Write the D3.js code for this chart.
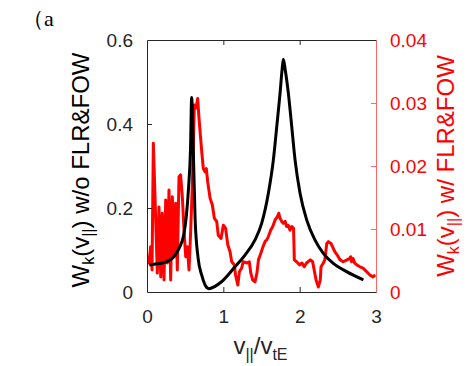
<!DOCTYPE html>
<html>
<head>
<meta charset="utf-8">
<script src="https://cdn.jsdelivr.net/npm/d3@7"></script>
<style>
  html, body { margin: 0; padding: 0; background: #fff; }
  svg { display: block; }
  text { font-family: Arial, "Liberation Sans", Helvetica, sans-serif; }
</style>
</head>
<body>
<div id="chart"></div>
<script>
// ---- data ----
const blackX = [0.03, 0.09, 0.223, 0.30, 0.37, 0.43, 0.48, 0.515, 0.545, 0.57, 0.585, 0.607, 0.63, 0.67, 0.717, 0.76, 0.81, 0.98, 1.153, 1.284, 1.415, 1.503, 1.59, 1.655, 1.70, 1.743, 1.77, 1.786, 1.81, 1.852, 1.896, 1.94, 2.005, 2.093, 2.20, 2.31, 2.44, 2.62, 2.835];
const blackY = [0.064, 0.066, 0.070, 0.076, 0.088, 0.108, 0.135, 0.18, 0.25, 0.34, 0.463, 0.334, 0.175, 0.08, 0.04, 0.017, 0.008, 0.025, 0.060, 0.088, 0.124, 0.164, 0.235, 0.314, 0.394, 0.473, 0.53, 0.554, 0.53, 0.473, 0.394, 0.314, 0.235, 0.171, 0.124, 0.092, 0.068, 0.048, 0.029];

const redX = [0.000, 0.004, 0.026, 0.048, 0.066, 0.083, 0.105, 0.122, 0.135, 0.157, 0.180, 0.200, 0.223, 0.245, 0.266, 0.288, 0.310, 0.332, 0.354, 0.376, 0.397, 0.419, 0.440, 0.463, 0.485, 0.507, 0.528, 0.550, 0.570, 0.594, 0.620, 0.642, 0.664, 0.681, 0.717, 0.738, 0.760, 0.777, 0.795, 0.826, 0.856, 0.882, 0.913, 0.934, 0.970, 1.000, 1.030, 1.058, 1.088, 1.110, 1.144, 1.160, 1.190, 1.210, 1.240, 1.260, 1.310, 1.340, 1.360, 1.385, 1.415, 1.440, 1.460, 1.490, 1.520, 1.547, 1.570, 1.590, 1.620, 1.647, 1.677, 1.710, 1.726, 1.743, 1.765, 1.786, 1.810, 1.830, 1.850, 1.874, 1.896, 1.920, 1.930, 1.960, 2.000, 2.030, 2.060, 2.090, 2.140, 2.170, 2.190, 2.215, 2.245, 2.270, 2.280, 2.310, 2.330, 2.355, 2.376, 2.410, 2.430, 2.460, 2.490, 2.530, 2.570, 2.620, 2.650, 2.670, 2.680, 2.700, 2.720, 2.750, 2.790, 2.830, 2.880, 2.920, 2.960, 2.990];
const redY = [0.0051, 0.0056, 0.0046, 0.0072, 0.0035, 0.0236, 0.0151, 0.0083, 0.0030, 0.0135, 0.0024, 0.0125, 0.0019, 0.0146, 0.0046, 0.0162, 0.0019, 0.0151, 0.0056, 0.0141, 0.0035, 0.0183, 0.0186, 0.0151, 0.0098, 0.0056, 0.0072, 0.0035, 0.0090, 0.0170, 0.0297, 0.0292, 0.0307, 0.0276, 0.0223, 0.0196, 0.0191, 0.0196, 0.0175, 0.0149, 0.0138, 0.0117, 0.0112, 0.0090, 0.0085, 0.0106, 0.0101, 0.0075, 0.0064, 0.0048, 0.0043, 0.0027, 0.0011, 0.0032, 0.0038, 0.0048, 0.0046, 0.0048, 0.0030, 0.0019, 0.0016, 0.0030, 0.0051, 0.0061, 0.0072, 0.0080, 0.0083, 0.0088, 0.0098, 0.0104, 0.0114, 0.0120, 0.0125, 0.0117, 0.0112, 0.0109, 0.0112, 0.0104, 0.0106, 0.0098, 0.0104, 0.0101, 0.0051, 0.0048, 0.0043, 0.0046, 0.0040, 0.0046, 0.0051, 0.0048, 0.0035, 0.0019, 0.0008, 0.0019, 0.0040, 0.0046, 0.0051, 0.0077, 0.0080, 0.0077, 0.0072, 0.0064, 0.0059, 0.0051, 0.0048, 0.0051, 0.0053, 0.0056, 0.0048, 0.0053, 0.0046, 0.0043, 0.0040, 0.0038, 0.0032, 0.0027, 0.0024, 0.0027];

const xTicks = [0, 1, 2, 3];
const yLeftTicks = [0, 0.2, 0.4, 0.6];
const yRightTicks = [0, 0.01, 0.02, 0.03, 0.04];
const yRightLabels = ["0", "0.01", "0.02", "0.03", "0.04"];

// ---- layout ----
const W = 476, H = 366;
const m = { left: 147, right: 376, top: 40, bottom: 292 };
const grayC = "#262626", redC = "#ff0000";

const svg = d3.select("#chart").append("svg").attr("width", W).attr("height", H);

const x = d3.scaleLinear().domain([0, 3]).range([m.left, m.right]);
const yL = d3.scaleLinear().domain([0, 0.6]).range([m.bottom, m.top]);
const yR = d3.scaleLinear().domain([0, 0.04]).range([m.bottom, m.top]);

const blackData = blackX.map((v, i) => [v, blackY[i]]);
const redData = redX.map((v, i) => [v, redY[i]]);

svg.append("clipPath").attr("id", "clip").append("rect")
  .attr("x", m.left).attr("y", m.top - 2).attr("width", m.right - m.left).attr("height", m.bottom - m.top + 2);

const g = svg.append("g").attr("clip-path", "url(#clip)");
g.append("path").datum(redData)
  .attr("fill", "none").attr("stroke", redC).attr("stroke-width", 3).attr("stroke-linejoin", "round")
  .attr("d", d3.line().x(d => x(d[0])).y(d => yR(d[1])));
g.append("path").datum(blackData)
  .attr("fill", "none").attr("stroke", "#000").attr("stroke-width", 3).attr("stroke-linejoin", "round")
  .attr("d", d3.line().curve(d3.curveMonotoneX).x(d => x(d[0])).y(d => yL(d[1])));

const fs = 19;
const xb = svg.append("g").attr("transform", `translate(0,${m.bottom})`)
  .call(d3.axisBottom(x).tickValues(xTicks).tickFormat(d3.format("d")).tickSizeInner(-5).tickSizeOuter(0).tickPadding(18));
const xt = svg.append("g").attr("transform", `translate(0,${m.top})`)
  .call(d3.axisTop(x).tickValues(xTicks).tickFormat("").tickSizeInner(-5).tickSizeOuter(0));
const yl = svg.append("g").attr("transform", `translate(${m.left},0)`)
  .call(d3.axisLeft(yL).tickValues(yLeftTicks).tickFormat(d => d === 0 ? "0" : d3.format(".1f")(d)).tickSizeInner(-5).tickSizeOuter(0).tickPadding(14));
const yr = svg.append("g").attr("transform", `translate(${m.right},0)`)
  .call(d3.axisRight(yR).tickValues(yRightTicks).tickFormat((d, i) => yRightLabels[i]).tickSizeInner(-5).tickSizeOuter(0).tickPadding(14));

[xb, xt, yl].forEach(a => {
  a.select(".domain").attr("stroke", grayC).attr("stroke-width", 1);
  a.selectAll(".tick line").attr("stroke", grayC);
  a.selectAll(".tick text").attr("fill", grayC).style("font-size", fs + "px").style("font-family", "Arial, 'Liberation Sans', sans-serif");
});
yr.select(".domain").attr("stroke", redC).attr("stroke-width", 1).attr("stroke-opacity", 0.6);
yr.selectAll(".tick line").attr("stroke", redC).attr("stroke-opacity", 0.6);
yr.selectAll(".tick text").attr("fill", redC).style("font-size", fs + "px").style("font-family", "Arial, 'Liberation Sans', sans-serif");
xb.selectAll(".tick line").filter(d => d === 0 || d === 3).remove();
xt.selectAll(".tick line").filter(d => d === 0 || d === 3).remove();
yl.selectAll(".tick line").filter(d => d === 0 || d === 0.6).remove();
yr.selectAll(".tick line").filter(d => d === 0 || d === 0.04).remove();

// axis titles
const lf = 24, sf = 16;
function addTitle(tx, ty, color, tail) {
  const t = svg.append("text")
    .attr("transform", `translate(${tx},${ty}) rotate(-90)`)
    .attr("text-anchor", "middle").attr("fill", color).style("font-size", lf + "px");
  t.append("tspan").text("W");
  t.append("tspan").attr("dy", 5).style("font-size", sf + "px").text("k");
  t.append("tspan").attr("dy", -5).text("(v");
  t.append("tspan").attr("dy", 5).style("font-size", sf + "px").text("||");
  t.append("tspan").attr("dy", -5).text(tail);
}
addTitle(89, 170, "#000", ") w/o FLR&FOW");
addTitle(454, 166, redC, ") w/ FLR&FOW");

const xTitle = svg.append("text")
  .attr("x", (m.left + m.right) / 2 - 1).attr("y", 354)
  .attr("text-anchor", "middle").attr("fill", grayC).style("font-size", lf + "px");
xTitle.append("tspan").text("v");
xTitle.append("tspan").attr("dy", 6).style("font-size", sf + "px").text("||");
xTitle.append("tspan").attr("dy", -6).text("/v");
xTitle.append("tspan").attr("dy", 6).style("font-size", sf + "px").text("tE");

// panel label
svg.append("text").attr("x", 22).attr("y", 26)
  .style("font-family", "'Times New Roman', 'Liberation Serif', serif")
  .style("font-size", "22px").attr("fill", "#000").text("（a");
</script>
</body>
</html>
